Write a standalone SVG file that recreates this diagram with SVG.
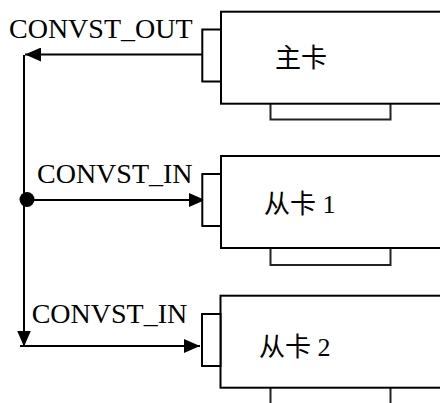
<svg xmlns="http://www.w3.org/2000/svg" width="440" height="403" viewBox="0 0 440 403">
<style>
.box{fill:#fff;stroke:#000;stroke-width:2}
.slot{fill:#fff;stroke:#222;stroke-width:2}
.ln{fill:none;stroke:#000;stroke-width:2}
.lbl{font-family:"Liberation Serif","Times New Roman",serif;font-size:28px;fill:#000}
.cn{font-family:"Liberation Serif","Noto Sans CJK SC",serif;font-size:26px;fill:#000}
</style>
<defs>
<marker id="ah" viewBox="0 0 16 14" refX="16" refY="7" markerWidth="16" markerHeight="14" markerUnits="userSpaceOnUse" orient="auto">
<path d="M0,0 L16,7 L0,14 Z" fill="#000"/>
</marker>
</defs>
<rect width="440" height="403" fill="#fff"/>
<g id="connectors">
<line class="ln" x1="202" y1="54.5" x2="25" y2="54.5" marker-end="url(#ah)"/>
<line class="ln" x1="24" y1="55" x2="24" y2="346.5" marker-end="url(#ah)"/>
<line class="ln" x1="24" y1="200" x2="205" y2="200" marker-end="url(#ah)"/>
<line class="ln" x1="20" y1="346" x2="200" y2="346" marker-end="url(#ah)"/>
<circle cx="27" cy="199.5" r="7.5" fill="#000"/>
<text class="lbl" x="9" y="38">CONVST_OUT</text>
<text class="lbl" x="37" y="182.7">CONVST_IN</text>
<text class="lbl" x="31.7" y="322.7">CONVST_IN</text>
</g>
<g id="master">
<rect class="slot" x="270.5" y="103" width="120" height="16.5"/>
<rect class="box" x="221" y="11.7" width="230" height="92"/>
<rect class="box" x="202.3" y="29.5" width="18.7" height="52"/>
<text class="cn" x="275" y="67">主卡</text>
</g>
<g id="slave1">
<rect class="slot" x="270.5" y="248" width="120" height="17"/>
<rect class="box" x="221" y="156" width="230" height="92"/>
<rect class="box" x="202.3" y="174" width="18.7" height="52"/>
<text class="cn" x="264" y="213">从卡 1</text>
</g>
<g id="slave2">
<rect class="slot" x="270.5" y="387" width="120" height="30"/>
<rect class="box" x="220.5" y="295.7" width="230" height="92"/>
<rect class="box" x="202" y="314" width="18.5" height="52"/>
<text class="cn" x="259" y="356">从卡 2</text>
</g>
</svg>
